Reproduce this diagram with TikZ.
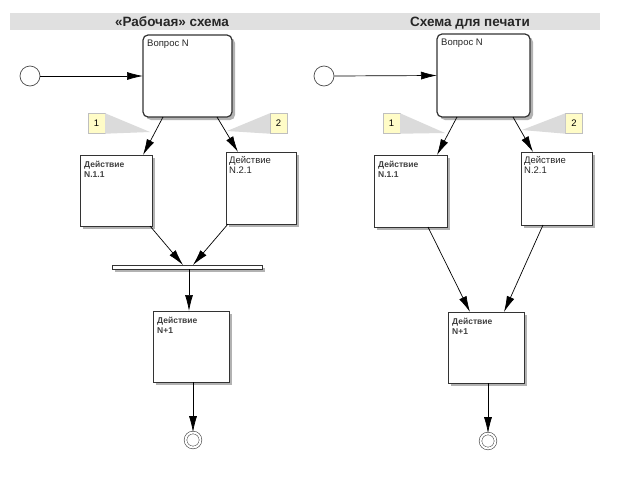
\documentclass[tikz,border=0pt]{standalone}
\usepackage{fontspec}
\setmainfont{Liberation Sans}
\usetikzlibrary{arrows.meta,shadows}
\begin{document}
\begin{tikzpicture}[x=1pt,y=-1pt,
 >={Latex[length=16pt,width=8pt]},
 box/.style={draw=black!80, line width=1pt, fill=white, inner sep=0pt, outer sep=0pt,
   drop shadow={shadow xshift=3pt,shadow yshift=-3pt,fill=black!50,opacity=0.6}},
 qbox/.style={box, rounded corners=5pt, line width=1.2pt},
 lbl/.style={anchor=north west, inner sep=0pt, align=left, font=\fontsize{9.5}{10.5}\selectfont, text=black!85},
 lblb/.style={anchor=north west, inner sep=0pt, align=left, font=\fontsize{8.5}{10}\selectfont\bfseries, text=black!75},
 arr/.style={->, draw=black, line width=0.7pt},
 note/.style={draw=black!25, fill=yellow!22, minimum width=17pt, minimum height=20pt, inner sep=0pt, font=\fontsize{9.5}{10}\selectfont},
 wedge/.style={fill=black!14},
 startc/.style={circle, draw=black!70, fill=white, minimum size=20pt, inner sep=0pt, line width=0.7pt},
 endc/.style={circle, draw=black!70, double, double distance=2pt, line width=0.6pt, minimum size=15pt, inner sep=0pt},
 titl/.style={font=\fontsize{13.5}{15}\selectfont\bfseries, text=black!85, inner sep=0pt, anchor=base},
]
\useasboundingbox (0,0) rectangle (638,477);
\fill[white] (0,0) rectangle (638,477);
% title band
\node[fill=black!12, minimum width=590pt, minimum height=17pt, anchor=north west, inner sep=0pt] (band) at (10,13) {};
\node[titl] (t1) at (172,26.5) {«Рабочая» схема};
\node[titl] (t2) at (470,26.5) {Схема для печати};

% ---------- left diagram ----------
\coordinate (w1L) at (150,132);
\coordinate (w2L) at (227,131);
\node[note] (n1L) at (96.5,123.5) {1};
\node[note] (n2L) at (278.5,123.5) {2};
\fill[wedge] (n1L.north east) -- (w1L) -- (n1L.south east) -- cycle;
\fill[wedge] (n2L.north west) -- (w2L) -- (n2L.south west) -- cycle;

\node[startc] (s1) at (30,76) {};
\node[qbox, minimum width=89pt, minimum height=82pt] (q1) at (187.5,76) {};
\node[lbl] (q1t) at ([shift={(4pt,-5pt)}]q1.north west) {Вопрос N};
\node[box, minimum width=72pt, minimum height=71pt] (a11) at (116,190.5) {};
\node[lblb] (a11t) at ([shift={(4pt,-6pt)}]a11.north west) {Действие\\N.1.1};
\node[box, minimum width=70pt, minimum height=72pt] (a21) at (261,188) {};
\node[lbl] (a21t) at ([shift={(3pt,-4pt)}]a21.north west) {Действие\\N.2.1};
\node[box, line width=0.8pt, minimum width=150pt, minimum height=4pt] (bar) at (187,267) {};
\node[box, minimum width=76pt, minimum height=71pt] (m1) at (191,346.5) {};
\node[lblb] (m1t) at ([shift={(4pt,-6pt)}]m1.north west) {Действие\\N+1};
\node[endc] (e1) at (193,440) {};

\draw[arr] (s1.east) -- (q1.west);
\draw[arr] ([xshift=-24.5pt]q1.south) -- ([xshift=27pt]a11.north);
\draw[arr] ([xshift=29.5pt]q1.south) -- ([xshift=-23pt]a21.north);
\draw[arr] ([xshift=34pt]a11.south) -- ([xshift=-4pt]bar.north);
\draw[arr] ([xshift=-33pt]a21.south) -- ([xshift=6pt]bar.north);
\draw[arr] ([xshift=2pt]bar.south) -- ([xshift=-2pt]m1.north);
\draw[arr] ([xshift=2pt]m1.south) -- (e1.north);

% ---------- right diagram ----------
\coordinate (w1R) at (445,133);
\coordinate (w2R) at (522,130);
\node[note] (n1R) at (391.5,123.5) {1};
\node[note] (n2R) at (574,123.5) {2};
\fill[wedge] (n1R.north east) -- (w1R) -- (n1R.south east) -- cycle;
\fill[wedge] (n2R.north west) -- (w2R) -- (n2R.south west) -- cycle;

\node[startc] (s2) at (324,76) {};
\node[qbox, minimum width=93pt, minimum height=83pt] (q2) at (483.5,75.5) {};
\node[lbl] (q2t) at ([shift={(4pt,-5pt)}]q2.north west) {Вопрос N};
\node[box, minimum width=73pt, minimum height=72pt] (a12) at (410.5,191) {};
\node[lblb] (a12t) at ([shift={(4pt,-6pt)}]a12.north west) {Действие\\N.1.1};
\node[box, minimum width=71pt, minimum height=73pt] (a22) at (556.5,188.5) {};
\node[lbl] (a22t) at ([shift={(3pt,-4pt)}]a22.north west) {Действие\\N.2.1};
\node[box, minimum width=76pt, minimum height=71pt] (m2) at (486,347.5) {};
\node[lblb] (m2t) at ([shift={(4pt,-6pt)}]m2.north west) {Действие\\N+1};
\node[endc] (e2) at (488,441) {};

\draw[arr] (s2.east) -- (q2.west);
\draw[arr] ([xshift=-26.5pt]q2.south) -- ([xshift=26.5pt]a12.north);
\draw[arr] ([xshift=29.5pt]q2.south) -- ([xshift=-23.5pt]a22.north);
\draw[arr] ([xshift=17.5pt]a12.south) -- ([xshift=-16pt]m2.north);
\draw[arr] ([xshift=-13.5pt]a22.south) -- ([xshift=18pt]m2.north);
\draw[arr] ([xshift=2pt]m2.south) -- (e2.north);
\end{tikzpicture}
\end{document}
